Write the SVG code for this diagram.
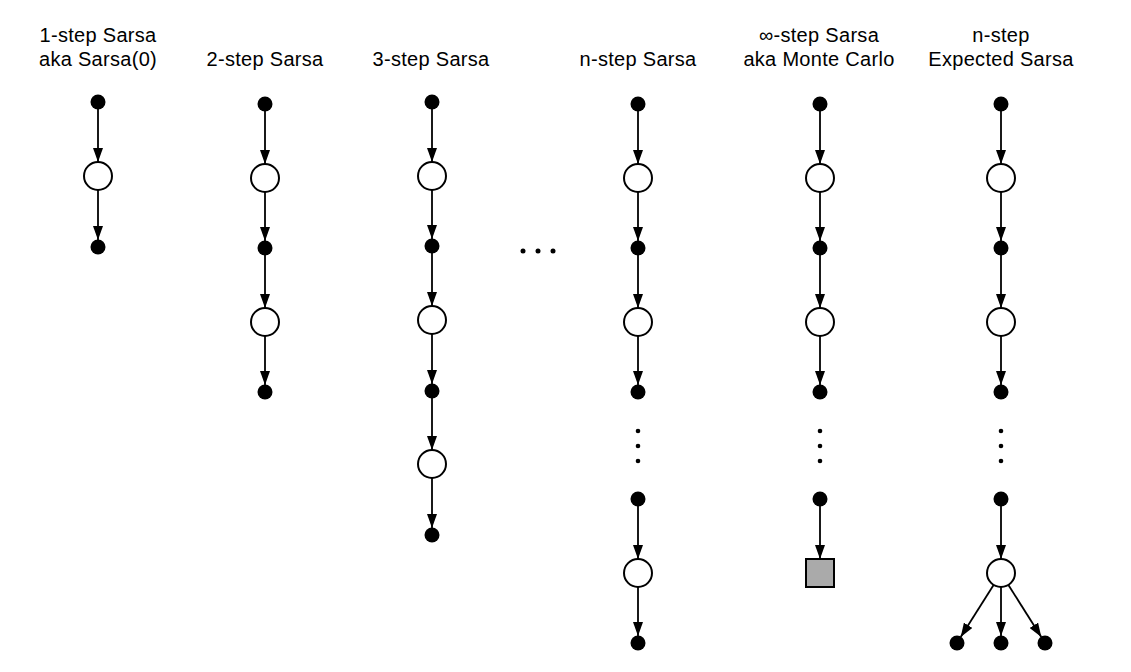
<svg xmlns="http://www.w3.org/2000/svg" width="1131" height="672" viewBox="0 0 1131 672">
<style>
.lbl{font-family:"Liberation Sans",Arial,Helvetica,sans-serif;font-size:20px;fill:#000;text-anchor:middle;letter-spacing:0.3px}
.d{fill:#000}
.c{fill:#fff;stroke:#000;stroke-width:2}
.e{stroke:#000;stroke-width:1.8;fill:none;marker-end:url(#ah)}
.dot{fill:#000}
.term{fill:#aaaaaa;stroke:#000;stroke-width:2}
</style>
<defs>
<marker id="ah" markerUnits="userSpaceOnUse" markerWidth="14" markerHeight="10" refX="14" refY="5" orient="auto">
<path d="M0,0 L14,5 L0,10 z" fill="#000"/>
</marker>
</defs>
<rect width="1131" height="672" fill="#fff"/>

<g id="labels">
<text class="lbl" x="98" y="42">1-step Sarsa</text>
<text class="lbl" x="98" y="66">aka Sarsa(0)</text>
<text class="lbl" x="265" y="66">2-step Sarsa</text>
<text class="lbl" x="431" y="66">3-step Sarsa</text>
<text class="lbl" x="638" y="66">n-step Sarsa</text>
<text class="lbl" x="819" y="42">∞-step Sarsa</text>
<text class="lbl" x="819" y="66">aka Monte Carlo</text>
<text class="lbl" x="1001" y="42">n-step</text>
<text class="lbl" x="1001" y="66">Expected Sarsa</text>
</g>

<g id="connectors">
<!-- col1 -->
<line class="e" x1="98" y1="109" x2="98" y2="162"/>
<line class="e" x1="98" y1="190" x2="98" y2="240"/>
<!-- col2 -->
<line class="e" x1="265" y1="111" x2="265" y2="164"/>
<line class="e" x1="265" y1="192" x2="265" y2="241"/>
<line class="e" x1="265" y1="255" x2="265" y2="308"/>
<line class="e" x1="265" y1="336" x2="265" y2="385"/>
<!-- col3 -->
<line class="e" x1="432" y1="109" x2="432" y2="162"/>
<line class="e" x1="432" y1="190" x2="432" y2="239"/>
<line class="e" x1="432" y1="253" x2="432" y2="306"/>
<line class="e" x1="432" y1="334" x2="432" y2="384"/>
<line class="e" x1="432" y1="398" x2="432" y2="450"/>
<line class="e" x1="432" y1="478" x2="432" y2="528"/>
<!-- col4 -->
<line class="e" x1="638" y1="111" x2="638" y2="164"/>
<line class="e" x1="638" y1="192" x2="638" y2="241"/>
<line class="e" x1="638" y1="255" x2="638" y2="308"/>
<line class="e" x1="638" y1="336" x2="638" y2="385"/>
<line class="e" x1="638" y1="506" x2="638" y2="559"/>
<line class="e" x1="638" y1="587" x2="638" y2="636"/>
<!-- col5 -->
<line class="e" x1="820" y1="111" x2="820" y2="164"/>
<line class="e" x1="820" y1="192" x2="820" y2="241"/>
<line class="e" x1="820" y1="255" x2="820" y2="308"/>
<line class="e" x1="820" y1="336" x2="820" y2="385"/>
<line class="e" x1="820" y1="506" x2="820" y2="559"/>
<!-- col6 -->
<line class="e" x1="1001" y1="111" x2="1001" y2="164"/>
<line class="e" x1="1001" y1="192" x2="1001" y2="241"/>
<line class="e" x1="1001" y1="255" x2="1001" y2="308"/>
<line class="e" x1="1001" y1="336" x2="1001" y2="385"/>
<line class="e" x1="1001" y1="506" x2="1001" y2="559"/>
<line class="e" x1="993.6" y1="584.9" x2="960.7" y2="637.1"/>
<line class="e" x1="1001" y1="587" x2="1001" y2="636"/>
<line class="e" x1="1008.4" y1="584.9" x2="1041.3" y2="637.1"/>
</g>

<g id="col1">
<circle id="c1n1" class="d" cx="98" cy="102" r="7.5"/>
<circle id="c1n2" class="c" cx="98" cy="176" r="14"/>
<circle id="c1n3" class="d" cx="98" cy="247" r="7.5"/>
</g>

<g id="col2">
<circle id="c2n1" class="d" cx="265" cy="104" r="7.5"/>
<circle id="c2n2" class="c" cx="265" cy="178" r="14"/>
<circle id="c2n3" class="d" cx="265" cy="248" r="7.5"/>
<circle id="c2n4" class="c" cx="265" cy="322" r="14"/>
<circle id="c2n5" class="d" cx="265" cy="392" r="7.5"/>
</g>

<g id="col3">
<circle id="c3n1" class="d" cx="432" cy="102" r="7.5"/>
<circle id="c3n2" class="c" cx="432" cy="176" r="14"/>
<circle id="c3n3" class="d" cx="432" cy="246" r="7.5"/>
<circle id="c3n4" class="c" cx="432" cy="320" r="14"/>
<circle id="c3n5" class="d" cx="432" cy="391" r="7.5"/>
<circle id="c3n6" class="c" cx="432" cy="464" r="14"/>
<circle id="c3n7" class="d" cx="432" cy="535" r="7.5"/>
</g>

<g id="hellipsis">
<circle class="dot" cx="523" cy="251" r="2.5"/>
<circle class="dot" cx="538" cy="251" r="2.5"/>
<circle class="dot" cx="553" cy="251" r="2.5"/>
</g>

<g id="col4">
<circle id="c4n1" class="d" cx="638" cy="104" r="7.5"/>
<circle id="c4n2" class="c" cx="638" cy="178" r="14"/>
<circle id="c4n3" class="d" cx="638" cy="248" r="7.5"/>
<circle id="c4n4" class="c" cx="638" cy="322" r="14"/>
<circle id="c4n5" class="d" cx="638" cy="392" r="7.5"/>
<circle class="dot" cx="638" cy="431" r="2.3"/>
<circle class="dot" cx="638" cy="446" r="2.3"/>
<circle class="dot" cx="638" cy="461" r="2.3"/>
<circle id="c4n6" class="d" cx="638" cy="499" r="7.5"/>
<circle id="c4n7" class="c" cx="638" cy="573" r="14"/>
<circle id="c4n8" class="d" cx="638" cy="643" r="7.5"/>
</g>

<g id="col5">
<circle id="c5n1" class="d" cx="820" cy="104" r="7.5"/>
<circle id="c5n2" class="c" cx="820" cy="178" r="14"/>
<circle id="c5n3" class="d" cx="820" cy="248" r="7.5"/>
<circle id="c5n4" class="c" cx="820" cy="322" r="14"/>
<circle id="c5n5" class="d" cx="820" cy="392" r="7.5"/>
<circle class="dot" cx="820" cy="431" r="2.3"/>
<circle class="dot" cx="820" cy="446" r="2.3"/>
<circle class="dot" cx="820" cy="461" r="2.3"/>
<circle id="c5n6" class="d" cx="820" cy="499" r="7.5"/>
<rect id="c5n7" class="term" x="806" y="559" width="28" height="28"/>
</g>

<g id="col6">
<circle id="c6n1" class="d" cx="1001" cy="104" r="7.5"/>
<circle id="c6n2" class="c" cx="1001" cy="178" r="14"/>
<circle id="c6n3" class="d" cx="1001" cy="248" r="7.5"/>
<circle id="c6n4" class="c" cx="1001" cy="322" r="14"/>
<circle id="c6n5" class="d" cx="1001" cy="392" r="7.5"/>
<circle class="dot" cx="1001" cy="431" r="2.3"/>
<circle class="dot" cx="1001" cy="446" r="2.3"/>
<circle class="dot" cx="1001" cy="461" r="2.3"/>
<circle id="c6n6" class="d" cx="1001" cy="499" r="7.5"/>
<circle id="c6n7" class="c" cx="1001" cy="573" r="14"/>
<circle id="c6n8" class="d" cx="957" cy="643" r="7.5"/>
<circle id="c6n9" class="d" cx="1001" cy="643" r="7.5"/>
<circle id="c6n10" class="d" cx="1045" cy="643" r="7.5"/>
</g>
</svg>
